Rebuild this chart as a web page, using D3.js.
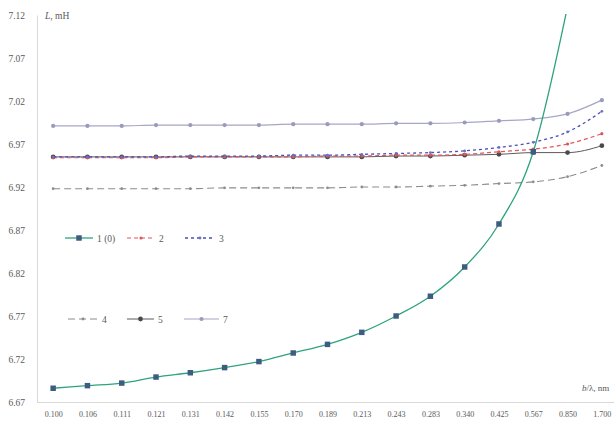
<!DOCTYPE html>
<html>
<head>
<meta charset="utf-8">
<script src="https://cdn.jsdelivr.net/npm/d3@7"></script>
<style>
  body { margin: 0; background: #fff; }
  text { font-family: "Liberation Serif", "DejaVu Serif", serif; fill: #595959; }
</style>
</head>
<body>
<div id="chart"></div>
<script>
var svgWidth = 614;
var svgHeight = 423;

// categories (b/λ)
var cats = ["0.100", "0.106", "0.111", "0.121", "0.131", "0.142", "0.155", "0.170", "0.189",
  "0.213", "0.243", "0.283", "0.340", "0.425", "0.567", "0.850", "1.700"];

var yTicks = ["6.67", "6.72", "6.77", "6.82", "6.87", "6.92", "6.97", "7.02", "7.07", "7.12"];

// series values, L in mH
var s1 = [6.686, 6.689, 6.692, 6.699, 6.704, 6.710, 6.717, 6.727, 6.737, 6.751, 6.770, 6.793, 6.827, 6.877, 6.961, 7.13, null];
var s2 = [6.954, 6.954, 6.954, 6.954, 6.955, 6.955, 6.955, 6.955, 6.956, 6.956, 6.957, 6.957, 6.958, 6.961, 6.964, 6.970, 6.982];
var s3 = [6.955, 6.955, 6.955, 6.955, 6.956, 6.956, 6.956, 6.957, 6.957, 6.958, 6.959, 6.960, 6.962, 6.966, 6.972, 6.984, 7.008];
var s4 = [6.918, 6.918, 6.918, 6.918, 6.918, 6.919, 6.919, 6.919, 6.919, 6.920, 6.920, 6.921, 6.922, 6.924, 6.926, 6.932, 6.945];
var s5 = [6.955, 6.955, 6.955, 6.955, 6.955, 6.955, 6.955, 6.955, 6.955, 6.955, 6.956, 6.956, 6.957, 6.958, 6.960, 6.960, 6.968];
var s7 = [6.991, 6.991, 6.991, 6.992, 6.992, 6.992, 6.992, 6.993, 6.993, 6.993, 6.994, 6.994, 6.995, 6.997, 6.999, 7.005, 7.021];

var seriesNames = ["1 (0)", "2", "3", "4", "5", "7"];

var styles = [
  { vals: s1, color: "#2ea37f", dash: null, width: 1.3, marker: "square", mColor: "#3d5d80", mSize: 30 },
  { vals: s2, color: "#e0575b", dash: "4,3", width: 1.2, marker: "circle", mColor: "#e0575b", mSize: 8 },
  { vals: s3, color: "#4a4fb8", dash: "3,3", width: 1.3, marker: "circle", mColor: "#6a6fc8", mSize: 6 },
  { vals: s4, color: "#8c8c8c", dash: "7,4", width: 1.1, marker: "circle", mColor: "#8c8c8c", mSize: 6 },
  { vals: s5, color: "#5a5a5a", dash: null, width: 1, marker: "circle", mColor: "#4a4a4a", mSize: 18 },
  { vals: s7, color: "#a6a6c8", dash: null, width: 1.2, marker: "circle", mColor: "#9a9aba", mSize: 14 }
];

var plot = { left: 37, right: 614, top: 15, bottom: 402 };

var svg = d3.select("#chart").append("svg")
  .attr("width", svgWidth)
  .attr("height", svgHeight);

var x = d3.scalePoint().domain(cats).range([36, 619]).padding(0.5);
var y = d3.scaleLinear().domain([6.67, 7.12]).range([plot.bottom, plot.top]);

svg.append("clipPath").attr("id", "clip")
  .append("rect")
  .attr("x", plot.left).attr("y", plot.top - 1)
  .attr("width", plot.right - plot.left).attr("height", plot.bottom - plot.top + 1);

// axes
var leftAxis = d3.axisLeft(y)
  .tickValues(yTicks.map(Number))
  .tickFormat(d3.format(".2f"))
  .tickSize(0)
  .tickPadding(12);

var gy = svg.append("g")
  .attr("transform", `translate(${plot.left},0)`)
  .call(leftAxis);
gy.select(".domain").attr("stroke", "#d9d9d9");
gy.selectAll("text").style("font-size", "9.5px").attr("fill", "#595959");

var bottomAxis = d3.axisBottom(x).tickSize(0).tickPadding(9);
var gx = svg.append("g")
  .attr("transform", `translate(0,${plot.bottom})`)
  .call(bottomAxis);
gx.select(".domain").attr("d", `M${plot.left},0.5H${plot.right}`).attr("stroke", "#d9d9d9");
gx.selectAll("text").style("font-size", "8px").attr("fill", "#595959");

// axis titles
svg.append("text").attr("x", 45).attr("y", 19).style("font-size", "9.5px")
  .html('<tspan font-style="italic">L</tspan>, mH');
svg.append("text").attr("x", 582).attr("y", 391).style("font-size", "9px")
  .html('<tspan font-style="italic">b</tspan>/λ, nm');

// series
var line = d3.line()
  .defined(d => d != null)
  .x((d, i) => x(cats[i]))
  .y(d => y(d))
  .curve(d3.curveMonotoneX);

var g = svg.append("g").attr("clip-path", "url(#clip)");

[3, 4, 5, 1, 2, 0].forEach(function(k) {
  var st = styles[k];
  g.append("path")
    .attr("d", line(st.vals))
    .attr("fill", "none")
    .attr("stroke", st.color)
    .attr("stroke-width", st.width)
    .attr("stroke-dasharray", st.dash);

  var sym = d3.symbol().type(st.marker == "square" ? d3.symbolSquare : d3.symbolCircle).size(st.mSize);
  g.selectAll(null)
    .data(st.vals.map((v, i) => ({ v: v, c: cats[i] })).filter(d => d.v != null && d.v <= 7.12))
    .enter()
    .append("path")
    .attr("d", sym)
    .attr("transform", d => `translate(${x(d.c)},${y(d.v)})`)
    .attr("fill", st.mColor);
});

// legend
var legendPos = [
  { x: 65, y: 238, w: 28 },
  { x: 127, y: 238, w: 28 },
  { x: 185, y: 238, w: 30 },
  { x: 68, y: 319, w: 30 },
  { x: 127, y: 319, w: 27 },
  { x: 184, y: 319, w: 35 }
];

seriesNames.forEach(function(name, k) {
  var st = styles[k];
  var p = legendPos[k];
  var lg = svg.append("g").attr("transform", `translate(${p.x},${p.y})`);
  lg.append("line")
    .attr("x1", 0).attr("x2", p.w).attr("y1", 0).attr("y2", 0)
    .attr("stroke", st.color)
    .attr("stroke-width", st.width)
    .attr("stroke-dasharray", st.dash);
  lg.append("path")
    .attr("d", d3.symbol().type(st.marker == "square" ? d3.symbolSquare : d3.symbolCircle).size(st.mSize))
    .attr("transform", `translate(${p.w / 2},0)`)
    .attr("fill", st.mColor);
  lg.append("text")
    .attr("x", p.w + 4).attr("y", 3.5)
    .style("font-size", "9.5px")
    .text(name);
});
</script>
</body>
</html>
